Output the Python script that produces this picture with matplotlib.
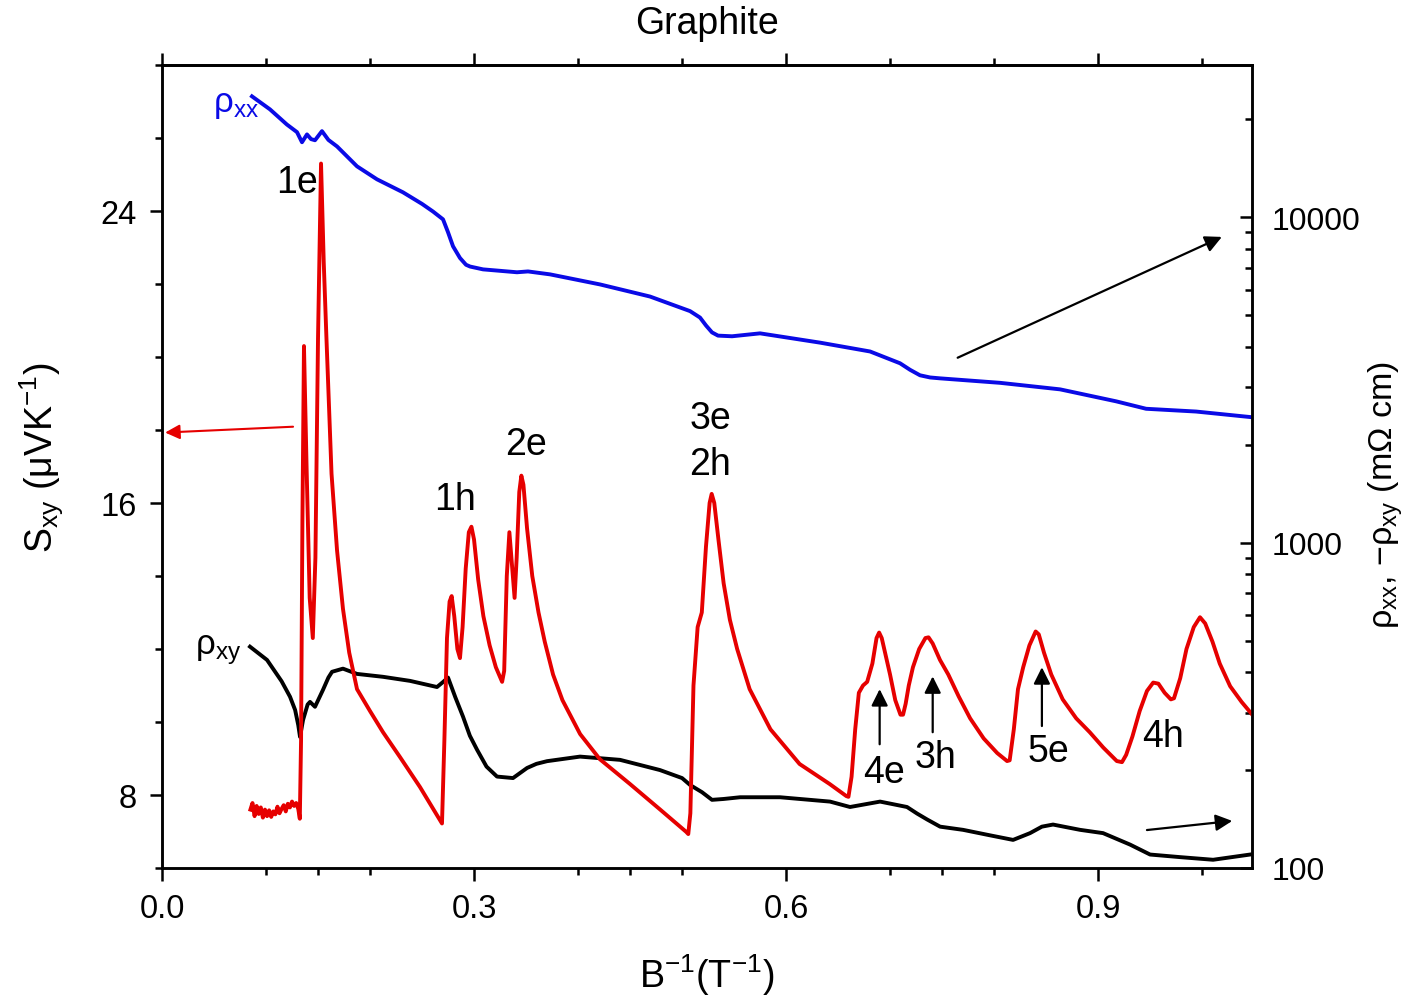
import matplotlib
matplotlib.use("Agg")
import matplotlib.pyplot as plt
from matplotlib.ticker import FixedLocator, MultipleLocator, LogLocator, NullFormatter, FixedFormatter

plt.rcParams['font.family'] = ['Liberation Sans', 'DejaVu Sans']
plt.rcParams['mathtext.fontset'] = 'custom'
plt.rcParams['mathtext.rm'] = 'Liberation Sans'
plt.rcParams['mathtext.it'] = 'Liberation Sans:italic'

# ---- data: S_xy (left axis, uV/K) ----
sxy_x = [0.085, 0.087, 0.089, 0.091, 0.093, 0.095, 0.097, 0.099, 0.101, 0.103,
         0.105, 0.107, 0.109, 0.111, 0.113, 0.115, 0.117, 0.119, 0.121, 0.123,
         0.125, 0.127, 0.129, 0.131, 0.1325,
         0.1337, 0.1350, 0.1365, 0.1390, 0.1420, 0.1450, 0.1475, 0.1500, 0.1529,
         0.1555, 0.1580, 0.1630, 0.1683, 0.1740, 0.1800, 0.1875, 0.2000, 0.2125,
         0.2288, 0.2480, 0.2692,
         0.2715, 0.2740, 0.2765, 0.2785, 0.2810, 0.2840, 0.2865, 0.2890, 0.2920,
         0.2950, 0.2975, 0.3000, 0.3040, 0.3090, 0.3150, 0.3210, 0.3270, 0.3290,
         0.3315, 0.3340, 0.3365, 0.3390, 0.3410, 0.3435, 0.3455, 0.3475, 0.3510,
         0.3560, 0.3620, 0.3680, 0.3760, 0.3850, 0.4020, 0.4210, 0.4500, 0.4790,
         0.5040, 0.5060,
         0.5080, 0.5110, 0.5150, 0.5190, 0.5230, 0.5265, 0.5285, 0.5310, 0.5350,
         0.5400, 0.5460, 0.5530, 0.5650, 0.5850, 0.6130, 0.6420, 0.6580, 0.6600,
         0.6630, 0.6665, 0.6700, 0.6740, 0.6780, 0.6830, 0.6870, 0.6895, 0.6920,
         0.6960, 0.7000, 0.7050, 0.7100, 0.7125, 0.7150, 0.7180, 0.7220, 0.7280,
         0.7340, 0.7370, 0.7410, 0.7480, 0.7560, 0.7660, 0.7770, 0.7900, 0.8030,
         0.8125, 0.8150, 0.8190, 0.8230, 0.8280, 0.8340, 0.8400, 0.8430, 0.8480,
         0.8550, 0.8660, 0.8790, 0.8920, 0.9050, 0.9180, 0.9230, 0.9270, 0.9330,
         0.9400, 0.9470, 0.9530, 0.9580, 0.9640, 0.9700, 0.9730, 0.9790, 0.9850,
         0.9920, 0.9980, 1.0030, 1.0100, 1.0170, 1.0270, 1.0380, 1.0480]
sxy_y = [7.60, 7.78, 7.42, 7.70, 7.48, 7.66, 7.38, 7.60, 7.42, 7.58,
         7.40, 7.55, 7.47, 7.68, 7.50, 7.62, 7.72, 7.55, 7.76, 7.66,
         7.82, 7.70, 7.78, 7.62, 7.35,
         9.50, 15.5, 20.3, 17.0, 13.4, 12.3, 14.5, 20.5, 25.3,
         22.6, 20.6, 16.8, 14.7, 13.1, 11.9, 10.9, 10.3, 9.72,
         9.04, 8.22, 7.22,
         9.5, 12.3, 13.3, 13.45, 12.9, 12.0, 11.75, 12.6, 14.2,
         15.2, 15.35, 15.0, 13.9, 12.9, 12.1, 11.5, 11.1, 11.4,
         14.0, 15.2, 14.3, 13.4, 14.5, 16.3, 16.75, 16.5, 15.3,
         14.0, 13.0, 12.2, 11.3, 10.6, 9.67, 8.98, 8.30, 7.60,
         6.99, 6.93,
         7.5, 11.0, 12.6, 13.0, 14.8, 16.0, 16.25, 16.0, 15.0,
         13.8, 12.8, 12.0, 10.9, 9.80, 8.85, 8.30, 7.97, 7.95,
         8.5, 9.8, 10.8, 11.0, 11.1, 11.6, 12.3, 12.45, 12.3,
         11.8, 11.3, 10.6, 10.2, 10.2, 10.5, 11.0, 11.5, 12.0,
         12.3, 12.32, 12.15, 11.7, 11.3, 10.7, 10.1, 9.55, 9.15,
         8.93, 8.95, 9.8, 10.9, 11.5, 12.1, 12.48, 12.4, 11.9,
         11.3, 10.62, 10.1, 9.72, 9.3, 8.93, 8.90, 9.1, 9.6,
         10.3, 10.85, 11.08, 11.05, 10.8, 10.62, 10.65, 11.2, 12.0,
         12.6, 12.87, 12.7, 12.2, 11.6, 10.98, 10.55, 10.21]

# ---- data: rho_xx (right log axis, mOhm cm) ----
rxx_x = [0.0865, 0.1038, 0.1200, 0.1298, 0.1346, 0.1394, 0.1433, 0.1471, 0.1538,
         0.1600, 0.1683, 0.1875, 0.2067, 0.2317, 0.2500, 0.2606, 0.2702, 0.2750,
         0.2798, 0.2865, 0.2923, 0.2962, 0.3087, 0.3250, 0.3413, 0.3519,
         0.3731, 0.4212, 0.4692, 0.5077, 0.5173, 0.5231, 0.5288, 0.5346, 0.5481,
         0.5750, 0.6327, 0.6808, 0.7096, 0.7192, 0.7288, 0.7385, 0.7481, 0.8058,
         0.8635, 0.9173, 0.9462, 0.9942, 1.0480]
rxx_y = [23550, 21480, 19300, 18280, 17020, 17990, 17400, 17260, 18410,
         17300, 16520, 14350, 13090, 11940, 11000, 10420, 9860, 9000,
         8150, 7500, 7150, 7060, 6920, 6850, 6780, 6820,
         6680, 6220, 5710, 5150, 4920, 4650, 4430, 4330, 4310,
         4400, 4120, 3870, 3560, 3400, 3270, 3220, 3200, 3100,
         2960, 2720, 2580, 2530, 2430]

# ---- data: -rho_xy (right log axis, mOhm cm) ----
rxy_x = [0.0846, 0.1010, 0.1150, 0.1231, 0.1280, 0.1310, 0.1327, 0.1356, 0.1400,
         0.1423, 0.1471, 0.1548, 0.1600, 0.1635, 0.1740, 0.1875, 0.2125, 0.2385,
         0.2644, 0.2702, 0.2750, 0.2820, 0.2894, 0.2960, 0.3029, 0.3120, 0.3221,
         0.3375, 0.3510, 0.3600, 0.3702, 0.4019, 0.4404, 0.4788, 0.5000, 0.5077,
         0.5192, 0.5288, 0.5400, 0.5558, 0.5942, 0.6423, 0.6615, 0.6904, 0.7163,
         0.7260, 0.7356, 0.7481, 0.7702, 0.7962, 0.8183, 0.8346, 0.8460, 0.8567,
         0.8827, 0.9048, 0.9308, 0.9500, 0.9788, 1.0106, 1.0462]
rxy_y = [479, 436, 375, 336, 306, 275, 253, 285, 318,
         324, 313, 353, 385, 401, 410, 395, 387, 376,
         360, 373, 385, 335, 292, 255, 231, 205, 191,
         189, 203, 209, 213, 220, 215, 200, 189, 180,
         171, 162, 163, 165, 165, 160, 154, 160, 154,
         147, 141, 134, 131, 126, 122, 128, 134, 136,
         131, 128, 118, 110, 108, 106, 110]

x_ticks = [0.0, 0.3, 0.6, 0.9]
x_ticklabels = ['0.0', '0.3', '0.6', '0.9']
bottom_minor = [0.1, 0.15, 0.2, 0.4, 0.45, 0.5, 0.7, 0.75, 0.8, 1.0]
top_minor = [0.1, 0.2, 0.4, 0.5, 0.7, 0.8, 1.0]
left_ticks = [8, 16, 24]
right_ticks = [100, 1000, 10000]

RED = '#e60000'
BLUE = '#0a0ae6'
LW = 2.8

fig = plt.figure(figsize=(14.08, 10.03), dpi=100)
ax = fig.add_axes([162/1408, 1 - 869/1003, (1252-162)/1408, (869-66)/1003])
ax2 = ax.twinx()

ax2.plot(rxx_x, rxx_y, color=BLUE, lw=LW, solid_joinstyle='round')
ax2.plot(rxy_x, rxy_y, color='black', lw=LW, solid_joinstyle='round')
ax.plot(sxy_x, sxy_y, color=RED, lw=LW, solid_joinstyle='round')

ax.set_zorder(ax2.get_zorder() + 1)
ax.patch.set_visible(False)

ax.set_xlim(0, 1.048)
ax.set_ylim(6, 28)
ax2.set_yscale('log')
ax2.set_ylim(100, 29400)

sw = 1.8
for a in (ax, ax2):
    for s in a.spines.values():
        s.set_linewidth(sw)

ax.set_xticks(x_ticks)
ax.set_xticklabels(x_ticklabels)
ax.xaxis.set_minor_locator(FixedLocator(bottom_minor))
ax.set_yticks(left_ticks)
ax.yaxis.set_minor_locator(MultipleLocator(2))
ax.tick_params(axis='both', which='major', direction='out', length=9, width=1.8,
               labelsize=23.5, pad=9)
ax.tick_params(axis='both', which='minor', direction='out', length=5, width=1.8)

ax2.yaxis.set_major_locator(FixedLocator(right_ticks))
ax2.yaxis.set_major_formatter(FixedFormatter([str(v) for v in right_ticks]))
ax2.yaxis.set_minor_locator(LogLocator(base=10, subs=range(2, 10)))
ax2.yaxis.set_minor_formatter(NullFormatter())
ax2.tick_params(axis='y', which='major', direction='in', length=9, width=1.8,
                labelsize=23, pad=14)
ax2.tick_params(axis='y', which='minor', direction='in', length=5, width=1.8)

top = ax.secondary_xaxis('top')
top.set_xticks(x_ticks)
top.set_xticklabels([])
top.xaxis.set_minor_locator(FixedLocator(top_minor))
top.tick_params(which='major', direction='out', length=9, width=1.8)
top.tick_params(which='minor', direction='out', length=5, width=1.8)
top.spines['top'].set_linewidth(sw)

fig.text(707/1408, 1 - 24/1003, 'Graphite', ha='center', va='center', fontsize=27)
fig.text(707/1408, 1 - 975/1003, r'B$^{\mathregular{-1}}$(T$^{\mathregular{-1}}$)',
         ha='center', va='center', fontsize=27)
fig.text(42/1408, 1 - 458/1003, r'S$_{\mathregular{xy}}$ ($\mathregular{\mu}$VK$^{\mathregular{-1}}$)',
         ha='center', va='center', rotation=90, fontsize=27)
fig.text(1386/1408, 1 - 495/1003,
         r'$\mathregular{\rho_{xx}}$, $\mathregular{-\rho_{xy}}$ (m$\mathregular{\Omega}$ cm)',
         ha='center', va='center', rotation=90, fontsize=24.5)

# curve labels
ax.text(0.071, 26.95, r'$\mathregular{\rho_{xx}}$', color=BLUE, fontsize=25, ha='center', va='center')
ax.text(0.054, 12.0, r'$\mathregular{\rho_{xy}}$', color='black', fontsize=25, ha='center', va='center')

labels = [('1e', 0.130, 24.79), ('1h', 0.282, 16.1), ('2e', 0.350, 17.63),
          ('3e', 0.527, 18.34), ('2h', 0.527, 17.08), ('4e', 0.694, 8.63),
          ('3h', 0.744, 9.04), ('5e', 0.852, 9.20), ('4h', 0.962, 9.61)]
for t, xx, yy in labels:
    ax.text(xx, yy, t, fontsize=27, ha='center', va='center')

ap = dict(arrowstyle='-|>', color='black', lw=1.6, mutation_scale=25, shrinkA=0, shrinkB=0)
for xx, y0, y1 in [(0.690, 9.39, 10.90), (0.741, 9.72, 11.25), (0.846, 9.89, 11.50)]:
    ax.annotate('', xy=(xx, y1), xytext=(xx, y0), arrowprops=ap)
ax.annotate('', xy=(1.019, 23.29), xytext=(0.765, 19.98), arrowprops=ap)
ax.annotate('', xy=(1.029, 7.29), xytext=(0.947, 7.04), arrowprops=ap)
ax.annotate('', xy=(0.003, 17.93), xytext=(0.126, 18.09),
            arrowprops=dict(arrowstyle='-|>', color=RED, lw=1.5, mutation_scale=22,
                            shrinkA=0, shrinkB=0))

fig.savefig('out.png', dpi=100)
